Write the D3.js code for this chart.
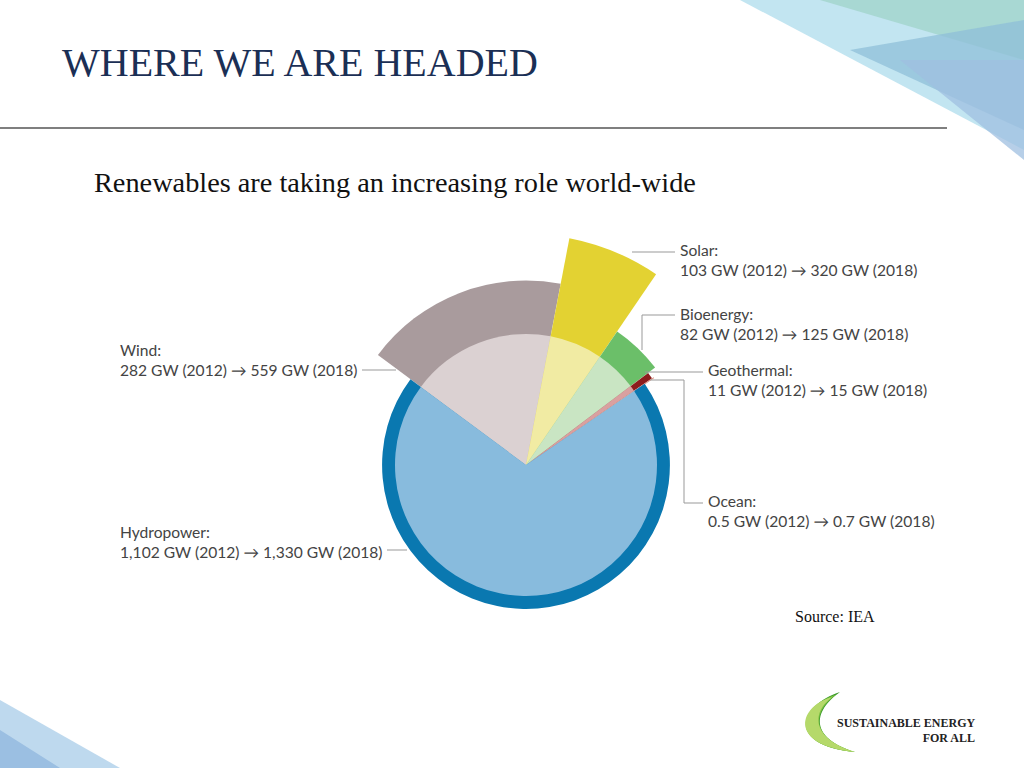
<!DOCTYPE html>
<html><head><meta charset="utf-8">
<script src="https://cdn.jsdelivr.net/npm/d3@7"></script>
<style>body{margin:0;background:#fff}</style>
</head><body>
<svg id="chart" width="1024" height="768"></svg>
<script>
const sources = ["Wind", "Solar", "Bioenergy", "Geothermal", "Ocean", "Hydropower"]
const gw2012 = [282, 103, 82, 11, 0.5, 1102]
const gw2018 = [559, 320, 125, 15, 0.7, 1330]
const outerColors = ["#a99b9d", "#e3d232", "#6bbf69", "#8c1c1c", "#d98a7a", "#0a78b0"]
const innerColors = ["#dbd1d2", "#f1eba3", "#c9e5c3", "#d9a0a0", "#e8b0a0", "#88bbdd"]
const labelLines = [
  ["Wind:", "282 GW (2012) \u2192 559 GW (2018)"],
  ["Solar:", "103 GW (2012) \u2192 320 GW (2018)"],
  ["Bioenergy:", "82 GW (2012) \u2192 125 GW (2018)"],
  ["Geothermal:", "11 GW (2012) \u2192 15 GW (2018)"],
  ["Ocean:", "0.5 GW (2012) \u2192 0.7 GW (2018)"],
  ["Hydropower:", "1,102 GW (2012) \u2192 1,330 GW (2018)"]
]

const svg = d3.select("#chart")

// decorative corner shapes
const deco = [
  [[740,0],[1024,0],[1024,150]],
  [[820,0],[1024,0],[1024,60]],
  [[850,50],[1024,20],[1024,130]],
  [[900,60],[1024,60],[1024,160]],
  [[0,700],[0,768],[120,768]],
  [[0,730],[0,768],[60,768]]
]
const decoColors = ["#aedcec", "#9fd3c8", "#8fbfd8", "#9fbfe0", "#a8cce8", "#8fb5de"]
svg.selectAll(".deco").data(deco).join("polygon")
  .attr("points", d => d.map(p => p.join(",")).join(" "))
  .attr("fill", (d, i) => decoColors[i]).attr("opacity", 0.75)

svg.append("text").attr("x", 62).attr("y", 76)
  .attr("font-family", "Liberation Serif").attr("font-size", 40).attr("fill", "#1b2f55")
  .text("WHERE WE ARE HEADED")
svg.append("line").attr("x1", 0).attr("x2", 947).attr("y1", 128).attr("y2", 128)
  .attr("stroke", "#555").attr("stroke-width", 1.5)
svg.append("text").attr("x", 94).attr("y", 192)
  .attr("font-family", "Liberation Serif").attr("font-size", 28.3).attr("fill", "#111")
  .text("Renewables are taking an increasing role world-wide")
svg.append("text").attr("x", 795).attr("y", 622)
  .attr("font-family", "Liberation Serif").attr("font-size", 16).attr("fill", "#111")
  .text("Source: IEA")

// pie
const cx = 526, cy = 465, r0 = 131
const total = d3.sum(gw2012)
const startA = -53.4 * Math.PI / 180
const angle = d3.scaleLinear().domain([0, total]).range([startA, startA + 2 * Math.PI])
const radius = d3.scaleSqrt().domain([0, 1]).range([0, r0])
let acc = 0
const slices = sources.map((s, i) => {
  const a0 = angle(acc); acc += gw2012[i]
  return {i, a0, a1: angle(acc)}
})
const g = svg.append("g").attr("transform", `translate(${cx},${cy})`)
const arc = d3.arc()
g.selectAll(".outer").data(slices).join("path")
  .attr("d", d => arc({innerRadius: 0, outerRadius: radius(gw2018[d.i] / gw2012[d.i]), startAngle: d.a0, endAngle: d.i === 4 ? d.a1 + 0.004 : d.a1}))
  .attr("fill", d => outerColors[d.i])
g.selectAll(".inner").data(slices).join("path")
  .attr("d", d => arc({innerRadius: 0, outerRadius: r0, startAngle: d.a0, endAngle: d.i === 4 ? d.a1 + 0.004 : d.a1}))
  .attr("fill", d => innerColors[d.i])

// labels
const labelPos = [[120, 356], [680, 256], [680, 320], [708, 376], [708, 507], [120, 538]]
const leaders = [
  [[362, 370], [396, 370]],
  [[675, 252], [632, 252]],
  [[675, 315], [642, 315], [642, 350]],
  [[703, 372], [645, 372]],
  [[703, 503], [684, 503], [684, 380], [650, 380]],
  [[387, 550], [407, 550]]
]
const lbl = svg.selectAll(".lbl").data(labelLines).join("text")
  .attr("font-family", "Lato, 'DejaVu Sans'").attr("font-size", 15.6).attr("fill", "#444")
lbl.selectAll("tspan").data((d, i) => d.map(t => [t, i])).join("tspan")
  .attr("x", d => labelPos[d[1]][0]).attr("y", (d, j) => labelPos[d[1]][1] + j * 20)
  .text(d => d[0])
svg.selectAll(".leader").data(leaders).join("polyline")
  .attr("points", d => d.map(p => p.join(",")).join(" "))
  .attr("fill", "none").attr("stroke", "#999").attr("stroke-width", 1)

// logo
const logo = svg.append("g")
;[[0, "#3a9a2a"], [8, "#7cc142"], [16, "#b5d96a"]].forEach(([o, c]) => {
  logo.append("path")
    .attr("d", `M${840 - o / 2},${692 + o / 3} C${800},${705} ${785},${745} ${855},${752} C${810},${738} ${812},${712} ${840 - o / 2},${692 + o / 3}Z`)
    .attr("fill", c)
})
logo.append("text").attr("x", 837).attr("y", 727).attr("font-family", "Liberation Serif")
  .attr("font-weight", "bold").attr("font-size", 12).attr("fill", "#222").text("SUSTAINABLE ENERGY")
logo.append("text").attr("x", 975).attr("y", 742).attr("text-anchor", "end").attr("font-family", "Liberation Serif")
  .attr("font-weight", "bold").attr("font-size", 12).attr("fill", "#222").text("FOR ALL")
</script>
</body></html>
